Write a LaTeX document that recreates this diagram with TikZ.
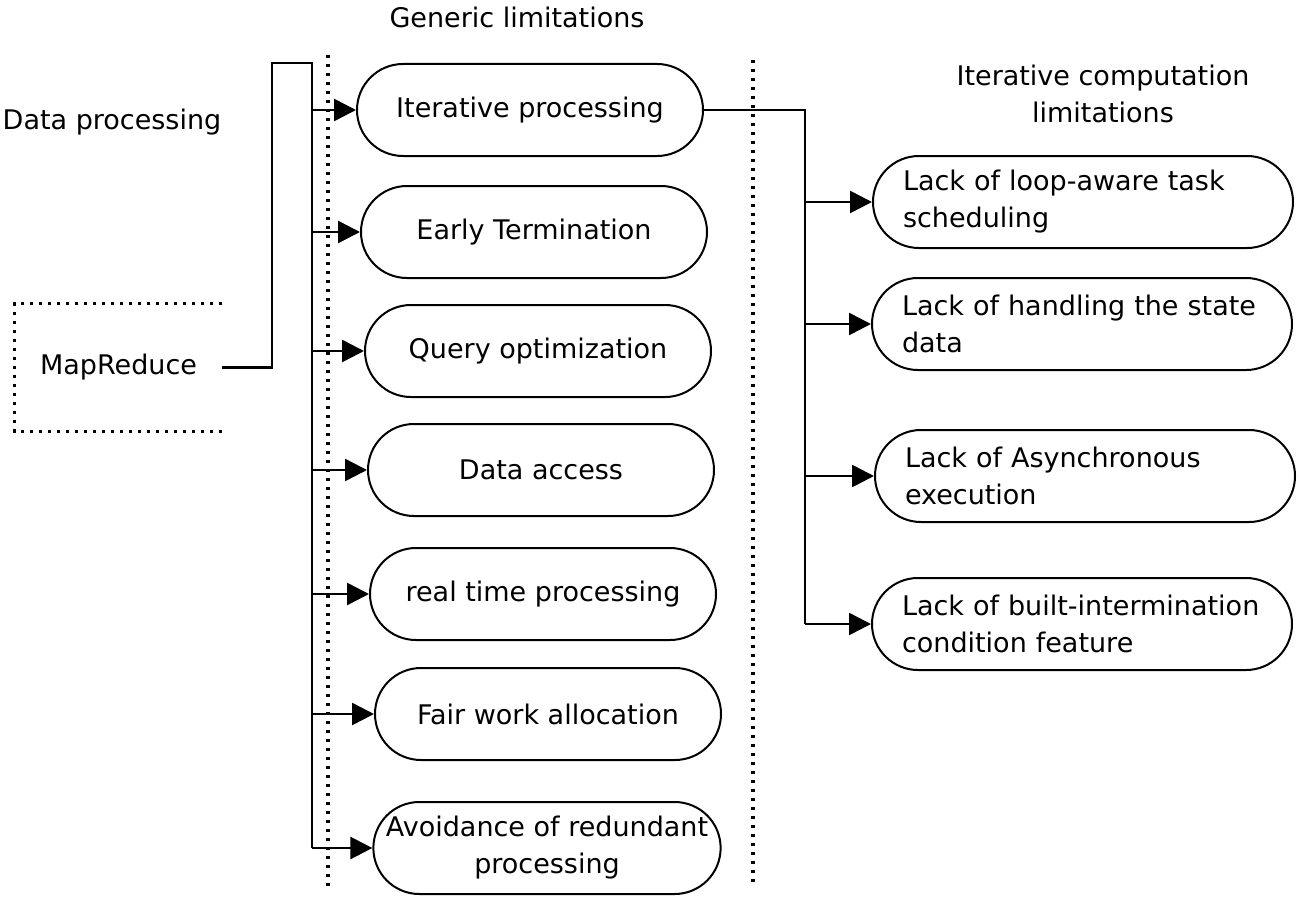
\documentclass[tikz,border=0pt]{standalone}
\usepackage{fontspec}
\setmainfont{DejaVu Sans}
\usetikzlibrary{shapes.misc,arrows.meta}
\tikzset{
  limit/.style={draw,line width=1pt,rounded rectangle,inner sep=0pt,
    minimum width=173pt,minimum height=46pt,align=center},
  iterlimit/.style={limit,minimum width=210pt,text width=180pt,align=left},
  link/.style={line width=1.3pt},
  arr/.style={line width=1.3pt,-{Triangle[length=11pt,width=11pt]}},
  sep/.style={line width=1.6pt,dash pattern=on 1.5pt off 3pt}
}
\begin{document}
\begin{tikzpicture}[x=0.5pt,y=-0.5pt,font=\fontsize{13.5}{18.5}\selectfont]
  \useasboundingbox (0,0) rectangle (1300,899);
  % headings
  \node (dp) at (112,122) {Data processing};
  \node (gl) at (517,17) {Generic limitations};
  \node[align=center] (icl) at (1103,94) {Iterative computation\\limitations};
  % MapReduce box, open on the right
  \node[minimum width=103.5pt,minimum height=63.5pt,inner sep=0pt] (mr) at (118.5,367.5) {MapReduce};
  \draw[sep] (mr.north east) -- (mr.north west) -- (mr.south west) -- (mr.south east);
  % separators
  \draw[sep] (328,55) -- (328,890);
  \draw[sep] (753,60) -- (753,888);
  % generic limitations
  \node[limit] (g1) at (530,110) {Iterative processing};
  \node[limit] (g2) at (534,232) {Early Termination};
  \node[limit] (g3) at (538,351) {Query optimization};
  \node[limit] (g4) at (541,470) {Data access};
  \node[limit] (g5) at (543,594) {real time processing};
  \node[limit] (g6) at (548,714) {Fair work allocation};
  \node[limit] (g7) at (547,848) {Avoidance of redundant\\processing};
  % iterative computation limitations
  \node[iterlimit] (l1) at (1083,202) {Lack of loop-aware task\\scheduling};
  \node[iterlimit] (l2) at (1082,324) {Lack of handling the state\\ data};
  \node[iterlimit] (l3) at (1085,476) {Lack of Asynchronous\\execution};
  \node[iterlimit] (l4) at (1082,624) {Lack of built-intermination\\condition feature};
  % trunk from MapReduce
  \coordinate (trunk) at (312,63);
  \coordinate (elbow) at (272,367.5);
  \draw[link] (mr.east) -- (elbow) |- (trunk) -- (trunk |- g7.west);
  \foreach \g in {g1,g2,g3,g4,g5,g6,g7}
    \draw[arr] (\g.west -| trunk) -- (\g.west);
  % trunk from iterative processing
  \coordinate (rtrunk) at (805,110);
  \draw[link] (g1.east) -- (rtrunk) -- (rtrunk |- l4.west);
  \foreach \l in {l1,l2,l3,l4}
    \draw[arr] (\l.west -| rtrunk) -- (\l.west);
\end{tikzpicture}
\end{document}
